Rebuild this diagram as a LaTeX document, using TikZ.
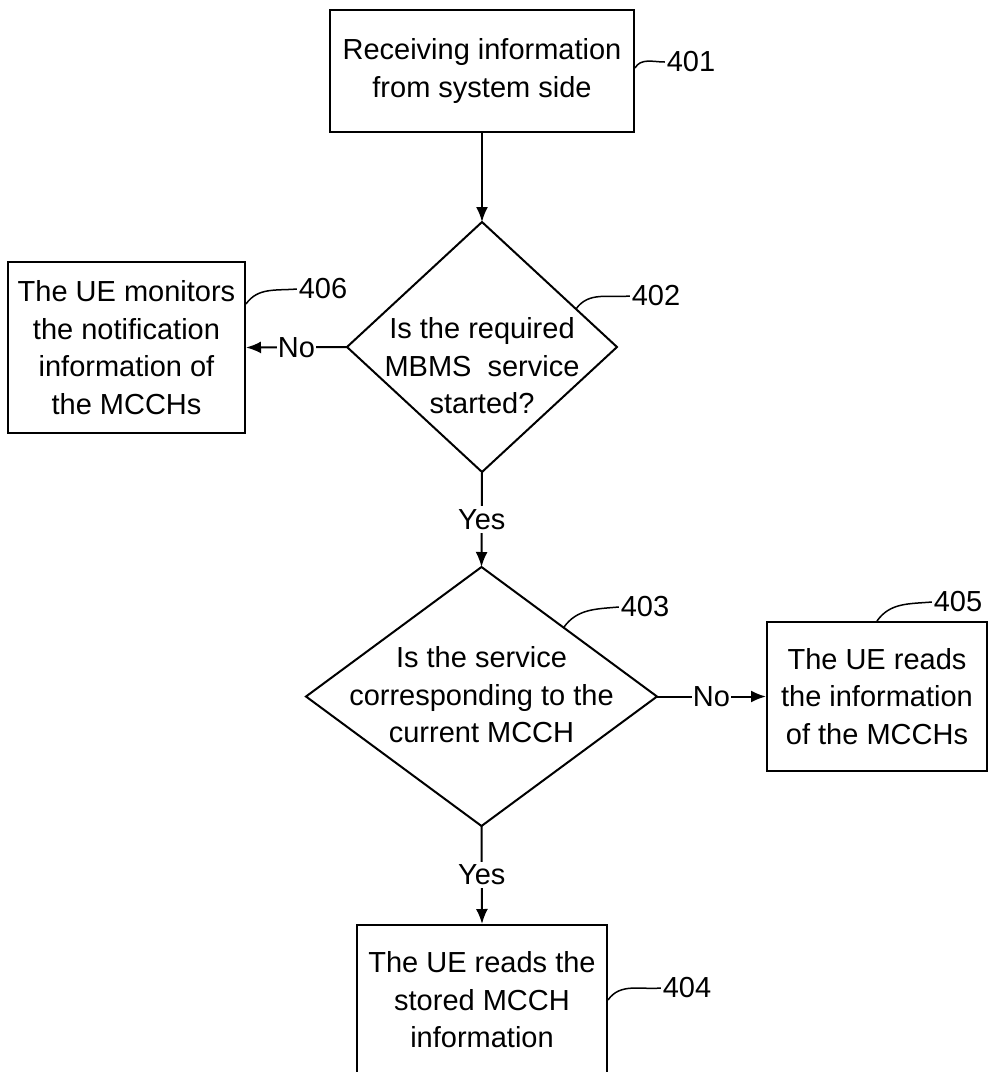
\documentclass[tikz,border=0pt]{standalone}
\usepackage{fontspec}
\setmainfont{Liberation Sans}
\usetikzlibrary{shapes.geometric,arrows.meta,positioning}

\begin{document}
\begin{tikzpicture}[x=1pt, y=1pt,
    ->, > = {Latex[length=15pt,width=12pt]}, line width=2pt,
    font=\fontsize{29}{37.5}\selectfont,
    box/.style={draw, rectangle, inner sep=0pt, align=center},
    decision/.style={draw, diamond, inner sep=0pt, outer sep=0pt},
    txt/.style={align=center, inner sep=0pt},
    lbl/.style={fill=white, inner xsep=1pt},
    num/.style={inner sep=1pt},
    leader/.style={-, line width=1.5pt}]
    \useasboundingbox (0,0) rectangle (988,-1072);
    \clip (0,0) rectangle (988,-1072);

    \node[box, minimum width=304pt, minimum height=122pt] (recv) at (482,-71) {Receiving information\\from system side};
    \node[decision, minimum width=270pt, minimum height=250pt] (started) at (482,-347) {};
    \node[txt] (startedText) at (482,-366) {Is the required\\MBMS\ \ service\\started?};
    \node[box, minimum width=237pt, minimum height=171pt] (monitor) at (126.5,-347.5) {The UE monitors\\the notification\\information of\\the MCCHs};
    \node[decision, minimum width=351pt, minimum height=259pt] (current) at (481.5,-696.5) {};
    \node[txt] (currentText) at (481.5,-695) {Is the service\\corresponding to the\\current MCCH};
    \node[box, minimum width=220pt, minimum height=149pt] (readall) at (877,-696.5) {The UE reads\\the information\\of the MCCHs};
    \node[box, minimum width=250pt, minimum height=150pt] (readstored) at (482,-1000) {The UE reads the\\stored MCCH\\information};

    % reference numbers
    \node[num] (n401) at (691,-62) {401};
    \node[num] (n402) at (656,-296) {402};
    \node[num] (n403) at (645,-607) {403};
    \node[num] (n404) at (687,-988) {404};
    \node[num] (n405) at (958,-602) {405};
    \node[num] (n406) at (323,-289) {406};

    \draw[leader] ([yshift=3pt]recv.east) to[out=60, in=180] (n401.west);
    \draw[leader] (started.22) to[out=55, in=185] (n402.west);
    \draw[leader] (current.40) to[out=55, in=185] (n403.west);
    \draw[leader] (readstored.east) to[out=55, in=185] (n404.west);
    \draw[leader] (readall.north) to[out=55, in=185] (n405.west);
    \draw[leader] (monitor.20) to[out=55, in=185] (n406.west);

    \draw (recv.south) -- (started.north);
    \draw (started.west) -- node[lbl] {No} (monitor.east);
    \draw (started.south) -- node[lbl] {Yes} (current.north);
    \draw (current.east) -- node[lbl] {No} (readall.west);
    \draw (current.south) -- node[lbl] {Yes} (readstored.north);
\end{tikzpicture}
\end{document}
